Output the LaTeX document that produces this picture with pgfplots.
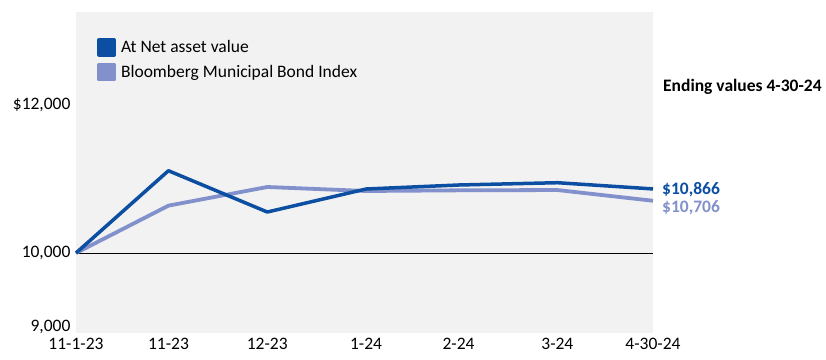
\documentclass[border=0pt]{standalone}
\usepackage{fontspec}
\setmainfont{Carlito}
\usepackage{pgfplots}
\pgfplotsset{compat=1.18}
\definecolor{navblue}{HTML}{0B4EA2}
\definecolor{idxblue}{HTML}{8291CB}
\definecolor{bggray}{HTML}{F2F2F2}
\begin{document}
\begin{tikzpicture}[x=1pt,y=1pt]
\useasboundingbox (0,0) rectangle (826,359);
\begin{axis}[
  at={(76pt,26pt)}, anchor=south west,
  scale only axis, width=577pt, height=321pt,
  xmin=0, xmax=181, ymin=8919, ymax=13257,
  axis background/.style={fill=bggray},
  axis line style={draw=none},
  major tick length=0pt,
  scaled y ticks=false,
  xtick={0,29,60,91,120,151,181},
  xticklabels={11-1-23,11-23,12-23,1-24,2-24,3-24,4-30-24},
  ytick={9000,10000,12000},
  yticklabels={{9,000},{10,000},{\$12,000}},
  yticklabel style={font=\fontsize{17.5}{20}\selectfont, xshift=-2pt},
  xticklabel style={font=\fontsize{17.5}{20}\selectfont, yshift=-2pt},
  clip=false,
  reverse legend,
  legend style={at={(0.0364,0.919)}, anchor=north west, draw=none, fill=none,
    font=\fontsize{17.5}{20}\selectfont, inner sep=0pt, row sep=6pt, column sep=3pt,
    nodes={inner sep=2pt}},
  legend cell align=left,
]
\addplot[black, line width=1pt, forget plot] coordinates {(0,10000) (181,10000)};
\addplot[idxblue, line width=3.8pt, line join=round,
  legend image code/.code={\fill[idxblue] (0pt,-7.5pt) rectangle (15pt,7.5pt);}] coordinates {
(0,10000) (29,10640) (60,10892) (91,10838) (120,10847) (151,10851) (181,10706)};
\addlegendentry{Bloomberg Municipal Bond Index}
\addplot[navblue, line width=3.5pt, line join=round,
  legend image code/.code={\fill[navblue] (0pt,-7.5pt) rectangle (15pt,7.5pt);}] coordinates {
(0,10000) (29,11112) (60,10554) (91,10865) (120,10919) (151,10950) (181,10866)};
\addlegendentry{At Net asset value}
\node[anchor=west, font=\fontsize{17.5}{20}\selectfont\bfseries, text=navblue, inner sep=0pt] at (axis cs:181,10866) [xshift=9pt, yshift=-1pt] {\$10,866};
\node[anchor=west, font=\fontsize{17.5}{20}\selectfont\bfseries, text=idxblue, inner sep=0pt] at (axis cs:181,10706) [xshift=9pt, yshift=-7pt] {\$10,706};
\node[anchor=west, font=\fontsize{17.5}{20}\selectfont\bfseries, inner sep=0pt] at (axis cs:181,12000) [xshift=10pt, yshift=18pt] {Ending values 4-30-24};
\end{axis}
\end{tikzpicture}
\end{document}
